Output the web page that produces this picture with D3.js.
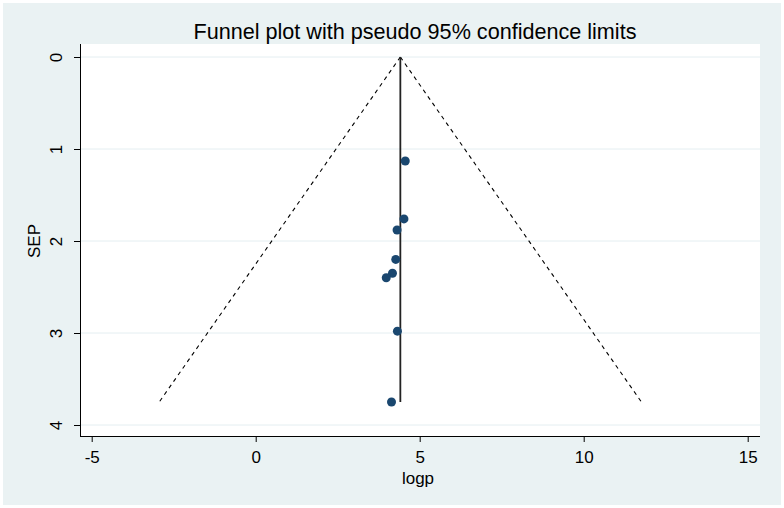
<!DOCTYPE html>
<html>
<head>
<meta charset="utf-8">
<script src="https://cdn.jsdelivr.net/npm/d3@7"></script>
<style>
  body { margin: 0; background: #fff; }
  svg { display: block; font-family: "Liberation Sans", Arial, sans-serif; }
</style>
</head>
<body>
<svg id="chart"></svg>
<script>
// study estimates (log p) and their standard errors
var logp = [4.56, 4.52, 4.31, 4.27, 4.17, 3.98, 4.32, 4.14];
var sep = [1.13, 1.76, 1.88, 2.20, 2.35, 2.40, 2.98, 3.75];
// pooled estimate (vertical line of the funnel)
var pooled = 4.41;
var xTicks = [-5, 0, 5, 10, 15];
var yTicks = [0, 1, 2, 3, 4];

var svgWidth = 784, svgHeight = 508;
//plot region
var plot = { left: 80, right: 760, top: 44, bottom: 436 };

var svg = d3.select("#chart")
	.attr("width", svgWidth)
	.attr("height", svgHeight);

//outer background
svg.append("rect")
	.attr("x", 3).attr("y", 3)
	.attr("width", 778).attr("height", 502)
	.attr("fill", "#eaf2f3");

svg.append("rect")
	.attr("x", plot.left).attr("y", plot.top)
	.attr("width", plot.right - plot.left).attr("height", plot.bottom - plot.top)
	.attr("fill", "#fff");

var x = d3.scaleLinear()
	.domain([-5, 15])
	.range([91.7, 747.7]);

var y = d3.scaleLinear()
	.domain([0, 4])
	.range([57, 425]);

//plain hyphen minus like the original
var fmt = d => String(d);

//horizontal grid lines
svg.append("g")
	.selectAll("line")
	.data(yTicks)
	.join("line")
	.attr("x1", plot.left + 1).attr("x2", plot.right)
	.attr("y1", d => y(d)).attr("y2", d => y(d))
	.attr("stroke", "#e4eef1")
	.attr("stroke-width", 1);

//x axis
var xAxis = svg.append("g")
	.attr("transform", `translate(0,${plot.bottom})`)
	.call(d3.axisBottom(x).tickValues(xTicks).tickFormat(fmt).tickSize(6).tickSizeOuter(0).tickPadding(9));
xAxis.select(".domain").attr("d", `M${plot.left},0.5H${plot.right}`).attr("stroke", "#000");
xAxis.selectAll(".tick line").attr("stroke", "#000");
xAxis.selectAll("text")
	.attr("fill", "#000")
	.style("font-size", "17px");

//y axis, labels rotated
var yAxis = svg.append("g")
	.attr("transform", `translate(${plot.left},0)`)
	.call(d3.axisLeft(y).tickValues(yTicks).tickFormat(fmt).tickSize(6).tickSizeOuter(0));
yAxis.select(".domain").attr("d", `M0.5,${plot.top}V${plot.bottom}`).attr("stroke", "#000");
yAxis.selectAll(".tick line").attr("stroke", "#000");
yAxis.selectAll("text")
	.attr("fill", "#000")
	.attr("x", 0).attr("y", 0).attr("dy", null)
	.attr("transform", "translate(-24,0) rotate(-90)")
	.attr("text-anchor", "middle")
	.attr("dominant-baseline", "central")
	.style("font-size", "17px");

//axis titles
svg.append("text")
	.attr("x", 418)
	.attr("y", 484)
	.attr("text-anchor", "middle")
	.style("font-size", "17px")
	.text("logp");

svg.append("text")
	.attr("transform", `translate(34,${(y(0) + y(4)) / 2}) rotate(-90)`)
	.attr("text-anchor", "middle")
	.attr("dominant-baseline", "central")
	.style("font-size", "17px")
	.text("SEP");

svg.append("text")
	.attr("x", 415)
	.attr("y", 39)
	.attr("text-anchor", "middle")
	.style("font-size", "21.6px")
	.text("Funnel plot with pseudo 95% confidence limits");

//funnel: pseudo 95% limits
var maxSE = d3.max(sep);
var funnel = [
	[[pooled, 0], [pooled - 1.96 * maxSE, maxSE]],
	[[pooled, 0], [pooled + 1.96 * maxSE, maxSE]]
];
var line = d3.line().x(d => x(d[0])).y(d => y(d[1]));

svg.append("g")
	.selectAll("path")
	.data(funnel)
	.join("path")
	.attr("d", line)
	.attr("fill", "none")
	.attr("stroke", "#000")
	.attr("stroke-width", 1.1)
	.attr("stroke-dasharray", "4,4");

svg.append("path")
	.attr("d", line([[pooled, 0], [pooled, maxSE]]))
	.attr("stroke", "#222")
	.attr("stroke-width", 1.8);

//study points
svg.append("g")
	.selectAll("circle")
	.data(logp)
	.join("circle")
	.attr("cx", d => x(d))
	.attr("cy", (d, i) => y(sep[i]))
	.attr("r", 4.5)
	.attr("fill", "#1a476f");
</script>
</body>
</html>
